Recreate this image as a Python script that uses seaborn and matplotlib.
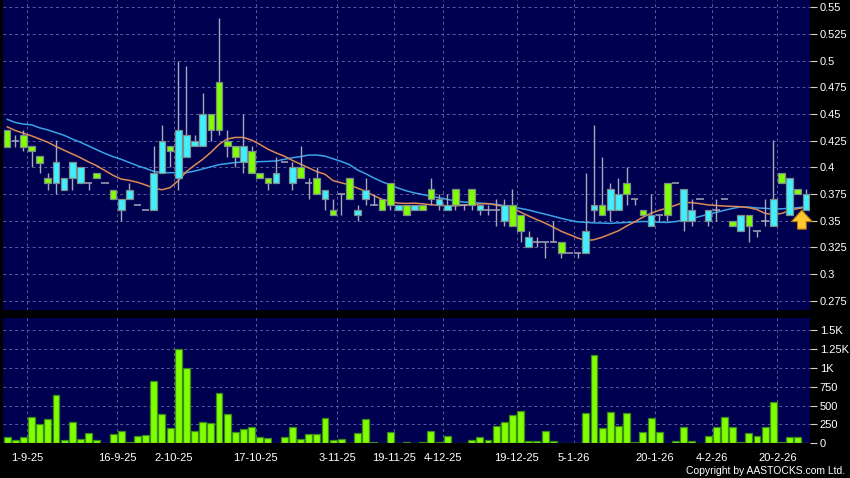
"""
plot.py
-------
Daily candlestick chart with 10/20-day moving averages and a volume panel,
styled after the AASTOCKS quote chart.
"""

import numpy as np
import pandas as pd
import matplotlib
matplotlib.use("Agg")
import matplotlib.pyplot as plt
import matplotlib.ticker as mticker
import seaborn as sns

# ---------------------------------------------------------------------------
# Data
# ---------------------------------------------------------------------------

opens = [0.435, 0.425, 0.430, 0.420, 0.411, 0.390, 0.385, 0.379, 0.390, 0.385,
         0.385, 0.395, 0.385, 0.379, 0.360, 0.370, 0.365, 0.360, 0.360, 0.395,
         0.420, 0.390, 0.410, 0.420, 0.420, 0.450, 0.480, 0.425, 0.420, 0.405,
         0.415, 0.395, 0.390, 0.385, 0.405, 0.385, 0.400, 0.385, 0.390, 0.370,
         0.360, 0.375, 0.390, 0.355, 0.370, 0.365, 0.370, 0.385, 0.360, 0.365,
         0.360, 0.365, 0.380, 0.365, 0.360, 0.380, 0.365, 0.380, 0.360, 0.360,
         0.360, 0.350, 0.365, 0.355, 0.325, 0.330, 0.330, 0.330, 0.330, 0.320,
         0.320, 0.320, 0.360, 0.365, 0.360, 0.360, 0.385, 0.370, 0.360, 0.345,
         0.355, 0.385, 0.385, 0.350, 0.350, 0.370, 0.350, 0.360, 0.370, 0.350,
         0.340, 0.355, 0.340, 0.350, 0.345, 0.395, 0.355, 0.380, 0.360]
highs = [0.435, 0.430, 0.435, 0.420, 0.411, 0.395, 0.426, 0.390, 0.405, 0.400,
         0.385, 0.395, 0.385, 0.379, 0.370, 0.385, 0.365, 0.360, 0.420, 0.440,
         0.420, 0.500, 0.495, 0.430, 0.470, 0.450, 0.540, 0.435, 0.420, 0.450,
         0.420, 0.395, 0.390, 0.410, 0.405, 0.405, 0.420, 0.390, 0.400, 0.379,
         0.370, 0.375, 0.390, 0.365, 0.390, 0.375, 0.370, 0.385, 0.365, 0.365,
         0.365, 0.365, 0.390, 0.375, 0.375, 0.380, 0.365, 0.380, 0.365, 0.365,
         0.370, 0.370, 0.380, 0.355, 0.340, 0.335, 0.330, 0.350, 0.330, 0.320,
         0.320, 0.395, 0.440, 0.410, 0.385, 0.390, 0.400, 0.370, 0.360, 0.375,
         0.355, 0.385, 0.385, 0.380, 0.370, 0.370, 0.360, 0.370, 0.370, 0.350,
         0.355, 0.355, 0.340, 0.370, 0.426, 0.395, 0.390, 0.380, 0.380]
lows = [0.419, 0.419, 0.415, 0.400, 0.395, 0.379, 0.375, 0.379, 0.379, 0.385,
        0.379, 0.390, 0.385, 0.370, 0.350, 0.370, 0.365, 0.360, 0.360, 0.395,
        0.400, 0.379, 0.410, 0.420, 0.420, 0.425, 0.430, 0.410, 0.400, 0.395,
        0.395, 0.390, 0.379, 0.385, 0.405, 0.379, 0.390, 0.370, 0.375, 0.360,
        0.355, 0.355, 0.370, 0.350, 0.365, 0.365, 0.360, 0.360, 0.360, 0.355,
        0.360, 0.360, 0.365, 0.360, 0.360, 0.360, 0.360, 0.360, 0.355, 0.355,
        0.345, 0.345, 0.345, 0.330, 0.325, 0.325, 0.315, 0.330, 0.315, 0.320,
        0.315, 0.320, 0.350, 0.355, 0.350, 0.360, 0.365, 0.365, 0.355, 0.345,
        0.350, 0.350, 0.385, 0.340, 0.345, 0.370, 0.345, 0.350, 0.370, 0.345,
        0.340, 0.330, 0.335, 0.345, 0.345, 0.385, 0.355, 0.375, 0.360]
closes = [0.419, 0.425, 0.419, 0.415, 0.404, 0.385, 0.405, 0.390, 0.405, 0.400,
          0.385, 0.390, 0.385, 0.370, 0.370, 0.379, 0.365, 0.360, 0.395, 0.425,
          0.415, 0.435, 0.430, 0.425, 0.450, 0.435, 0.435, 0.420, 0.410, 0.420,
          0.395, 0.390, 0.385, 0.395, 0.405, 0.400, 0.390, 0.385, 0.375, 0.379,
          0.355, 0.375, 0.370, 0.360, 0.379, 0.365, 0.360, 0.365, 0.365, 0.355,
          0.365, 0.360, 0.370, 0.370, 0.365, 0.365, 0.365, 0.365, 0.365, 0.360,
          0.360, 0.365, 0.345, 0.340, 0.335, 0.330, 0.330, 0.330, 0.320, 0.320,
          0.320, 0.340, 0.365, 0.355, 0.380, 0.375, 0.375, 0.370, 0.355, 0.355,
          0.355, 0.355, 0.385, 0.380, 0.360, 0.370, 0.360, 0.360, 0.370, 0.345,
          0.355, 0.345, 0.340, 0.350, 0.370, 0.385, 0.390, 0.375, 0.375]

# moving averages as drawn on the chart (short = orange, long = blue)
ma_short = [0.438, 0.4345, 0.432, 0.4295, 0.4265, 0.4235, 0.4195, 0.416, 0.4125, 0.409,
            0.405, 0.4015, 0.397, 0.3925, 0.389, 0.3878, 0.386, 0.3835, 0.3805, 0.379,
            0.381, 0.3875, 0.396, 0.402, 0.4075, 0.414, 0.4215, 0.4265, 0.428, 0.428,
            0.4255, 0.4215, 0.417, 0.4135, 0.4105, 0.4065, 0.403, 0.3995, 0.396, 0.3935,
            0.3875, 0.3855, 0.3835, 0.3805, 0.3775, 0.3735, 0.370, 0.368, 0.3665, 0.3662,
            0.3665, 0.3658, 0.365, 0.3645, 0.3638, 0.364, 0.3645, 0.365, 0.3658, 0.366,
            0.3647, 0.3632, 0.3616, 0.358, 0.3544, 0.351, 0.3478, 0.344, 0.340, 0.337,
            0.3338, 0.3315, 0.3322, 0.3345, 0.3375, 0.3406, 0.345, 0.349, 0.3533, 0.357,
            0.3598, 0.3618, 0.3645, 0.3672, 0.3669, 0.366, 0.3648, 0.3643, 0.3637, 0.3634,
            0.3631, 0.3622, 0.3605, 0.3568, 0.356, 0.3568, 0.3595, 0.3614, 0.3625]
ma_long = [0.445, 0.442, 0.4405, 0.4398, 0.437, 0.435, 0.4325, 0.430, 0.4265, 0.4235,
           0.420, 0.4165, 0.413, 0.410, 0.4075, 0.4045, 0.4015, 0.399, 0.3962, 0.395,
           0.395, 0.395, 0.395, 0.3965, 0.3985, 0.4005, 0.4025, 0.4035, 0.4045, 0.405,
           0.405, 0.4053, 0.4056, 0.406, 0.4075, 0.409, 0.410, 0.4115, 0.4115, 0.4105,
           0.408, 0.4055, 0.4025, 0.3975, 0.394, 0.390, 0.3865, 0.3835, 0.3805, 0.378,
           0.376, 0.3745, 0.373, 0.3715, 0.370, 0.3685, 0.3675, 0.367, 0.3665, 0.366,
           0.3653, 0.3642, 0.363, 0.3615, 0.360, 0.358, 0.3562, 0.3542, 0.3522, 0.3505,
           0.349, 0.3485, 0.348, 0.3478, 0.3475, 0.348, 0.3484, 0.3488, 0.3493, 0.349,
           0.3486, 0.3484, 0.3492, 0.3506, 0.352, 0.354, 0.356, 0.3578, 0.3598, 0.3615,
           0.363, 0.3627, 0.362, 0.3616, 0.361, 0.3612, 0.3616, 0.3622, 0.363]

volumes = [84, 44, 80, 346, 258, 320, 644, 40, 284, 62,
           133, 44, 9, 129, 160, 13, 98, 107, 830, 386,
           204, 1257, 995, 169, 289, 266, 670, 395, 155, 186,
           218, 80, 71, 0, 80, 222, 62, 129, 120, 333,
           49, 53, 0, 142, 329, 13, 3, 155, 0, 13,
           2, 13, 160, 13, 98, 0, 0, 44, 84, 44,
           235, 280, 382, 435, 31, 31, 166, 31, 4, 0,
           4, 400, 1177, 209, 413, 226, 409, 22, 151, 342,
           147, 4, 36, 213, 36, 0, 98, 213, 351, 213,
           22, 138, 98, 222, 551, 22, 89, 80, 0]

date_labels = ["1-9-25", "16-9-25", "2-10-25", "17-10-25", "3-11-25", "19-11-25",
               "4-12-25", "19-12-25", "5-1-26", "20-1-26", "4-2-26", "20-2-26"]
date_ticks = [2.5, 13.5, 20.5, 30.5, 40.5, 47.5, 53.5, 62.5, 69.5, 79.5, 86.5, 94.5]

price_ticks = [0.275, 0.3, 0.325, 0.35, 0.375, 0.4, 0.425, 0.45, 0.475, 0.5, 0.525, 0.55]
volume_ticks = [0, 250, 500, 750, 1000, 1250, 1500]

# ---------------------------------------------------------------------------
# Styling
# ---------------------------------------------------------------------------

BG = "#000000"
PANEL = "#000050"
GRID = "#5a5c9c"
UP = "#3ff0ff"
DOWN = "#80ff00"
CANDLE_EDGE = "#7f8c8c"
WICK = "#a6a8b8"
MA_SHORT = "#de8a55"
MA_LONG = "#3aa4e6"

sns.set_theme(style="dark")
plt.rcParams["font.family"] = ["Liberation Sans", "DejaVu Sans"]

df = pd.DataFrame({"open": opens, "high": highs, "low": lows, "close": closes,
                   "ma_short": ma_short, "ma_long": ma_long, "volume": volumes})
df["idx"] = np.arange(len(df))

fig = plt.figure(figsize=(8.5, 4.78), dpi=100, facecolor=BG)
ax_p = fig.add_axes([3 / 850, 1 - 310 / 478, 807 / 850, 310 / 478])
ax_v = fig.add_axes([3 / 850, 1 - 443.3 / 478, 807 / 850, 125.3 / 478], sharex=ax_p)


def style_axis(ax, yticks):
    ax.set_facecolor(PANEL)
    for s in ax.spines.values():
        s.set_visible(False)
    ax.set_yticks(yticks)
    ax.yaxis.tick_right()
    ax.tick_params(axis="y", colors="#d0d0d0", labelcolor="white", length=5,
                   width=0.8, direction="out", pad=2, labelsize=8)
    ax.grid(True, color=GRID, linestyle=(0, (3, 3)), linewidth=0.7)
    ax.set_axisbelow(True)
    ax.set_xlabel("")
    ax.set_ylabel("")


# --- price panel -----------------------------------------------------------
sns.lineplot(data=df, x="idx", y="ma_long", ax=ax_p, color=MA_LONG, lw=1.1, zorder=2)
sns.lineplot(data=df, x="idx", y="ma_short", ax=ax_p, color=MA_SHORT, lw=1.1, zorder=2)

ax_p.vlines(df["idx"], df["low"], df["high"], color=WICK, lw=1, zorder=3)

body = df[df["open"] != df["close"]]
colours = np.where(body["close"] > body["open"], UP, DOWN)
ax_p.bar(body["idx"], (body["close"] - body["open"]).abs(),
         bottom=body[["open", "close"]].min(axis=1), width=0.82,
         color=colours, edgecolor=CANDLE_EDGE, linewidth=0.9, zorder=4)

doji = df[df["open"] == df["close"]]
ax_p.hlines(doji["close"], doji["idx"] - 0.45, doji["idx"] + 0.45,
            color=WICK, lw=1.1, zorder=4)

# marker arrow on the last session
last = df.iloc[-2:]
ax_p.annotate("", xy=(last["idx"].mean(), 0.3625), xytext=(last["idx"].mean(), 0.3395),
              arrowprops=dict(arrowstyle="simple,head_width=1.0,head_length=0.55,tail_width=0.42",
                              fc="#ffc832", ec="#b87800", lw=0.8, mutation_scale=15),
              zorder=6)

style_axis(ax_p, price_ticks)
ax_p.set_ylim(0.2664, 0.5567)
ax_p.yaxis.set_major_formatter(mticker.FormatStrFormatter("%g"))
ax_p.set_xticks(date_ticks)
ax_p.tick_params(axis="x", bottom=False, labelbottom=False)

# --- volume panel ----------------------------------------------------------
ax_v.bar(df["idx"], df["volume"], width=0.85, color=DOWN,
         edgecolor="#3c8a1c", linewidth=0.9, zorder=3)
style_axis(ax_v, volume_ticks)
ax_v.set_ylim(0, 1665)
ax_v.yaxis.set_major_formatter(mticker.FuncFormatter(
    lambda v, _: f"{v / 1000:g}K" if v >= 1000 else f"{v:g}"))
ax_v.set_xticks(date_ticks)
ax_v.set_xticklabels(date_labels)
ax_v.tick_params(axis="x", colors="#d0d0d0", labelcolor="white", length=4,
                 width=0.8, direction="out", pad=3, labelsize=8)
ax_v.set_xlim(-0.5, 98.5)

fig.text(845 / 850, 1 - 471 / 478, "Copyright by AASTOCKS.com Ltd.", color="white",
         fontsize=7.5, ha="right", va="center")

fig.savefig("out.png", dpi=100, facecolor=BG)
plt.close(fig)
